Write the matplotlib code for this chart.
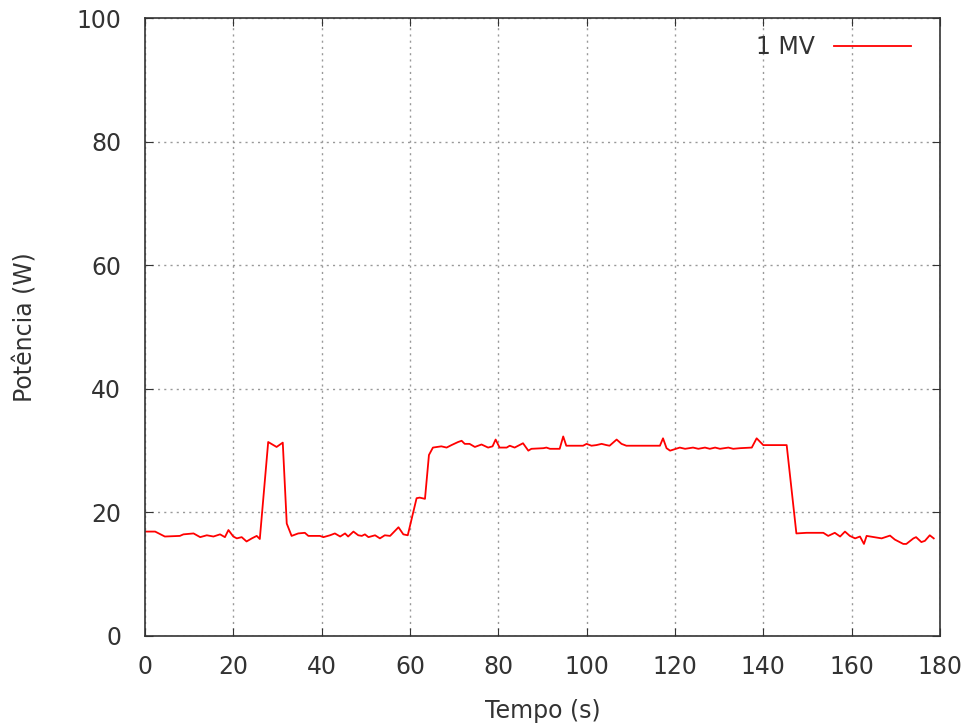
import numpy as np
import matplotlib.pyplot as plt

# tempo (s) e potencia (W)
tempo = [0, 2.3, 4.5, 7.9, 8.7, 11.0, 12.5, 14.0, 15.5, 17.0, 18.1, 18.9, 20.0, 20.8,
         21.9, 23.0, 24.2, 25.3, 26.0, 27.9, 29.8, 31.2, 32.1, 33.2, 34.7, 36.2, 37.0,
         39.6, 40.4, 41.9, 43.0, 44.2, 45.3, 46.0, 47.2, 48.3, 49.1, 49.8, 50.6, 52.1,
         53.2, 54.3, 55.5, 57.4, 58.5, 59.5, 61.5, 62.2, 63.4, 64.3, 65.2, 67.1, 68.3,
         69.4, 70.9, 71.7, 72.4, 73.5, 74.7, 76.2, 77.7, 78.7, 79.4, 80.3, 81.9, 82.6,
         83.7, 85.6, 86.8, 87.5, 90.2, 90.9, 91.7, 93.9, 94.7, 95.4, 99.2, 100.0, 101.1,
         102.2, 103.4, 104.5, 105.2, 106.8, 107.9, 109.0, 116.6, 117.3, 118.1, 118.9,
         121.1, 122.3, 124.1, 125.3, 126.8, 127.9, 129.1, 130.2, 132.1, 133.2, 134.7,
         137.4, 138.5, 140.0, 145.3, 147.5, 149.8, 153.6, 154.7, 156.2, 157.4, 158.5,
         159.6, 160.8, 161.9, 162.8, 163.4, 166.8, 168.7, 169.8, 171.7, 172.4, 174.0,
         174.6, 175.8, 176.6, 177.7, 178.6]
potencia = [16.9, 16.9, 16.1, 16.2, 16.45, 16.6, 16.0, 16.3, 16.1, 16.45, 16.0, 17.15, 16.1, 15.8,
            16.0, 15.3, 15.8, 16.2, 15.7, 31.4, 30.6, 31.3, 18.2, 16.2, 16.6, 16.7, 16.2,
            16.2, 16.0, 16.3, 16.6, 16.1, 16.6, 16.1, 16.9, 16.3, 16.2, 16.45, 16.0, 16.3,
            15.8, 16.3, 16.2, 17.6, 16.45, 16.3, 22.3, 22.4, 22.2, 29.3, 30.5, 30.7, 30.5,
            30.9, 31.4, 31.6, 31.1, 31.1, 30.6, 31.0, 30.5, 30.7, 31.8, 30.5, 30.5, 30.8,
            30.5, 31.2, 30.0, 30.3, 30.4, 30.5, 30.3, 30.3, 32.3, 30.8, 30.8, 31.1, 30.8,
            30.9, 31.1, 30.9, 30.8, 31.8, 31.1, 30.8, 30.8, 32.0, 30.4, 30.0,
            30.5, 30.3, 30.5, 30.3, 30.5, 30.3, 30.5, 30.3, 30.5, 30.3, 30.4,
            30.5, 32.0, 30.9, 30.9, 16.6, 16.7, 16.7, 16.2, 16.7, 16.1, 16.9,
            16.2, 15.8, 16.1, 14.9, 16.2, 15.8, 16.25, 15.6, 14.9, 14.9, 15.8,
            16.0, 15.2, 15.4, 16.3, 15.8]

plt.rcParams['font.family'] = 'DejaVu Sans'
fig = plt.figure(figsize=(9.73, 7.25), dpi=100)
ax = fig.add_axes([0.149, 0.1228, 0.817, 0.852])

ax.plot(tempo, potencia, color='#ff0000', lw=1.3, label='1 MV')

ax.set_xlim(0, 180)
ax.set_ylim(0, 100)
ax.set_xticks(np.arange(0, 181, 20))
ax.set_yticks(np.arange(0, 101, 20))
ax.tick_params(direction='in', top=True, right=True, labelsize=17, length=6,
               colors='#333333')
ax.tick_params(axis='x', pad=14)
ax.tick_params(axis='y', pad=17)
ax.grid(True, color='#999999', linestyle=(0, (1.5, 3)), lw=1)
for s in ax.spines.values():
    s.set_color('#333333')
    s.set_linewidth(1.2)

ax.set_xlabel('Tempo (s)', fontsize=17, labelpad=14, color='#333333')
ax.set_ylabel('Potência (W)', fontsize=17, labelpad=28, color='#333333')

ax.legend(loc='upper right', frameon=False, fontsize=17, markerfirst=False,
          handlelength=3.3, handletextpad=0.8, borderaxespad=0.3,
          bbox_to_anchor=(0.985, 1.0), labelcolor='#333333')

fig.savefig('out.png', dpi=100)
